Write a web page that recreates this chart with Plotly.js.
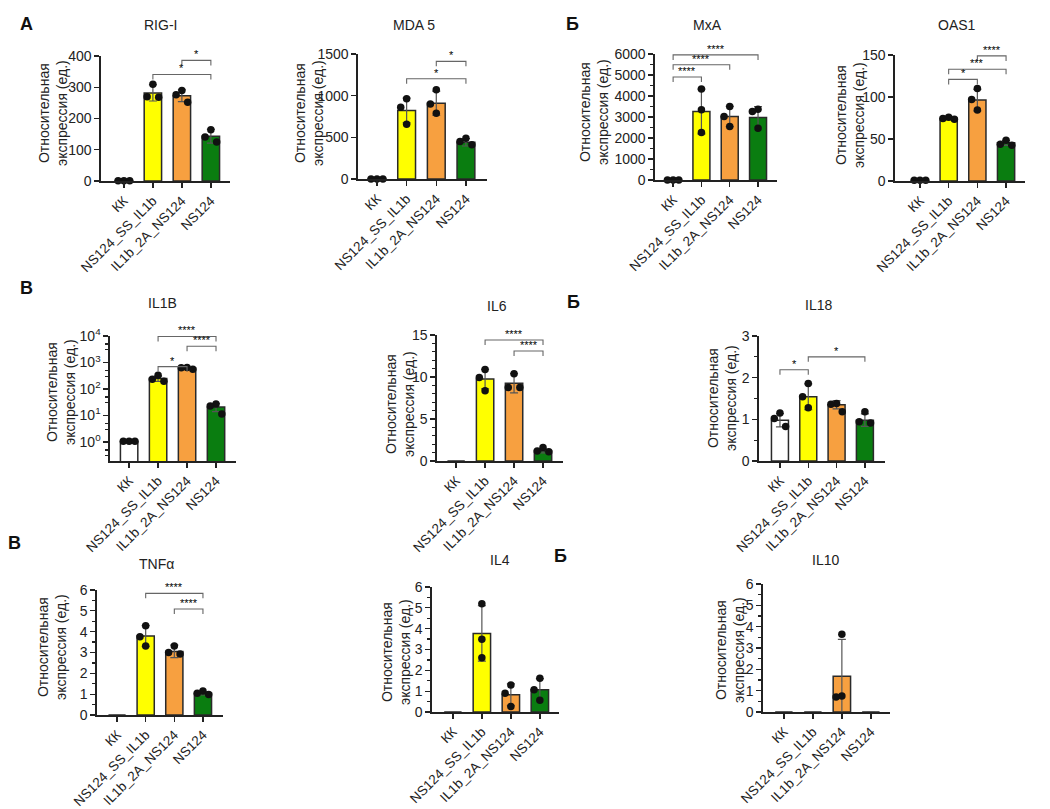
<!DOCTYPE html>
<html><head><meta charset="utf-8">
<script src="https://cdn.plot.ly/plotly-3.0.1.min.js"></script>
<style>html,body{margin:0;padding:0;background:#fff}#chart{width:1050px;height:809px}</style>
</head><body><div id="chart"></div>
<script>
// ---------- DATA ----------
const categories = ['КК', 'NS124_SS_IL1b', 'IL1b_2A_NS124', 'NS124'];

const rigiMean = [1, 282, 273, 143];
const rigiSd   = [0, 26, 19, 22];
const rigiPts  = [[1,1,1],[310,270,268],[290,276,252],[164,141,125]];
const rigiSig  = [[1,3,341,'*'],[2,3,386,'*']];

const mda5Mean = [1, 822, 910, 441];
const mda5Sd   = [0, 148, 145, 45];
const mda5Pts  = [[1,1,1],[963,862,658],[1071,899,790],[490,450,410]];
const mda5Sig  = [[1,3,1203,'*'],[2,3,1412,'*']];

const mxaMean = [1, 3263, 3024, 2976];
const mxaSd   = [0, 1066, 478, 524];
const mxaPts  = [[1,1,1],[4329,3342,2260],[3501,3024,2546],[3374,3263,2467]];
const mxaSig  = [[0,1,4902,'****'],[0,2,5491,'****'],[0,3,5960,'****']];

const oas1Mean = [1, 74.5, 96.3, 45.4];
const oas1Sd   = [0, 1.5, 12.8, 3];
const oas1Pts  = [[1,1,1],[76,74.4,73.6],[110,97,84.4],[48.5,43.8,42.6]];
const oas1Sig  = [[1,2,121,'*'],[1,3,133,'***'],[2,3,149,'****']];

const il1bMean = [1.05, 248, 600, 21];
const il1bSd   = [0.02, 55, 40, 7];
const il1bPts  = [[1.05,1.05,1.05],[331,235,196],[646,630,560],[27,22.6,11.3]];
const il1bSig  = [[1,2,700,'*'],[1,3,9600,'****'],[2,3,4100,'****']];

const il6Mean = [0, 9.75, 9.25, 1.2];
const il6Sd   = [0, 1.15, 1.15, 0.25];
const il6Pts  = [[],[10.9,9.95,8.36],[10.4,8.75,8.75],[1.6,1.2,1.1]];
const il6Sig  = [[1,3,14.4,'****'],[2,3,13.1,'****']];

const il18Mean = [0.98, 1.54, 1.35, 0.98];
const il18Sd   = [0.16, 0.31, 0.1, 0.15];
const il18Pts  = [[1.15,1.02,0.83],[1.86,1.54,1.28],[1.38,1.36,1.18],[1.18,0.94,0.91]];
const il18Sig  = [[0,1,2.19,'*'],[1,3,2.5,'*']];

const tnfMean = [0, 3.79, 3.05, 1.04];
const tnfSd   = [0, 0.5, 0.3, 0.08];
const tnfPts  = [[],[4.29,3.76,3.31],[3.31,3.0,2.93],[1.15,1.04,0.98]];
const tnfSig  = [[1,3,5.84,'****'],[2,3,5.09,'****']];

const il4Mean = [0, 3.77, 0.83, 1.07];
const il4Sd   = [0, 1.33, 0.52, 0.53];
const il4Pts  = [[],[5.2,3.49,2.61],[1.3,0.9,0.27],[1.62,1.07,0.56]];
const il4Sig  = [];

const il10Mean = [0, 0, 1.68, 0];
const il10Sd   = [0, 0, 1.72, 0];
const il10Pts  = [[],[],[3.65,0.75,0.7],[]];
const il10Sig  = [];

// ---------- STYLE / LAYOUT ----------
const W = 1050, H = 809;
const barColors = ['#ffffff', '#ffff00', '#f7a040', '#0a7d10'];
const FONT = 'Liberation Sans, Arial, Helvetica, sans-serif';
const TXT = '#222';

const panels = [
  {t:'RIG-I', m:rigiMean, s:rigiSd, p:rigiPts, g:rigiSig, box:[101,230,56,181], yr:[0,400], dt:100, xr:[-0.79,3.66], yt:[53,113]},
  {t:'MDA 5', m:mda5Mean, s:mda5Sd, p:mda5Pts, g:mda5Sig, box:[358,487,54,179], yr:[0,1500], dt:500, xr:[-0.64,3.71], yt:[309,113]},
  {t:'MxA',   m:mxaMean,  s:mxaSd,  p:mxaPts,  g:mxaSig,  box:[655,777,54,180], yr:[0,6000], dt:1000, minor:500, xr:[-0.64,3.67], yt:[594,112]},
  {t:'OAS1',  m:oas1Mean, s:oas1Sd, p:oas1Pts, g:oas1Sig, box:[895,1025,55,181], yr:[0,150], dt:50, xr:[-0.87,3.66], yt:[850,115]},
  {t:'IL1B',  m:il1bMean, s:il1bSd, p:il1bPts, g:il1bSig, box:[110,236,336,461], log:true, yr:[-0.72,4], xr:[-0.66,3.69], yt:[61,392]},
  {t:'IL6',   m:il6Mean,  s:il6Sd,  p:il6Pts,  g:il6Sig,  box:[437,563,335,461], yr:[0,15], dt:5, minor:1, xr:[-0.66,3.69], yt:[400,404]},
  {t:'IL18',  m:il18Mean, s:il18Sd, p:il18Pts, g:il18Sig, box:[759,885,336,461], yr:[0,3], dt:1, minor:0.5, xr:[-0.74,3.71], yt:[722,398]},
  {t:'TNFα',  m:tnfMean,  s:tnfSd,  p:tnfPts,  g:tnfSig,  box:[97,223,590,715], yr:[0,6], dt:1, minor:0.5, xr:[-0.7,3.7], yt:[52,647]},
  {t:'IL4',   m:il4Mean,  s:il4Sd,  p:il4Pts,  g:il4Sig,  box:[432,559,587,712], yr:[0,6], dt:1, minor:0.5, xr:[-0.72,3.66], yt:[396,652]},
  {t:'IL10',  m:il10Mean, s:il10Sd, p:il10Pts, g:il10Sig, box:[763,890,584,712], yr:[0,6], dt:1, minor:0.5, xr:[-0.72,3.66], yt:[730,650]}
];
const titlePos = [[160,25],[414,25],[707,25],[957,25],[162,303],[497,306],[818,305],[156,564],[500,560],[825,560]];
const panelLabels = [['А',26,24],['Б',572,24],['В',26,288],['Б',573,302],['В',14,543],['Б',560,556]];

const traces = [], shapes = [], annotations = [];
const layout = {width:W, height:H, margin:{l:0,r:0,t:0,b:0}, showlegend:false,
  paper_bgcolor:'#fff', plot_bgcolor:'rgba(0,0,0,0)', font:{family:FONT, color:TXT}};

function swarm(vals, norm) {
  const order = vals.map((v,i)=>i).sort((a,b)=>vals[b]-vals[a]);
  const offs = new Array(vals.length).fill(0);
  const placed = [];
  const cands = [0,-0.2,0.2,-0.4,0.4];
  for (const i of order) {
    const y = norm(vals[i]);
    let chosen = 0;
    for (const c of cands) {
      if (!placed.some(q => q.o===c && Math.abs(q.y-y) < 0.12)) { chosen = c; break; }
    }
    placed.push({o:chosen, y:y}); offs[i] = chosen;
  }
  return offs;
}

panels.forEach((P, k) => {
  const n = k+1, xa = 'x'+(n===1?'':n), ya = 'y'+(n===1?'':n);
  const [x0,x1,yT,yB] = P.box;
  layout['xaxis'+(n===1?'':n)] = {
    domain:[x0/W, x1/W], anchor:ya, range:P.xr, fixedrange:true,
    tickmode:'array', tickvals:[0,1,2,3], ticktext:categories, tickangle:-45,
    ticks:'outside', ticklen:5, tickwidth:1.3, tickcolor:'#222',
    showline:true, linecolor:'#222', linewidth:1.6, showgrid:false, zeroline:false,
    tickfont:{size:13.5, family:FONT, color:TXT}
  };
  const yax = {
    domain:[1-yB/H, 1-yT/H], anchor:xa, range:P.yr, fixedrange:true,
    ticks:'outside', ticklen:5, tickwidth:1.3, tickcolor:'#222',
    showline:true, linecolor:'#222', linewidth:1.6, showgrid:false, zeroline:false,
    tickfont:{size:14, family:FONT, color:TXT}
  };
  if (P.log) {
    yax.type = 'log';
    yax.tickmode = 'array';
    yax.tickvals = [1,10,100,1000,10000];
    yax.ticktext = ['10<sup>0</sup>','10<sup>1</sup>','10<sup>2</sup>','10<sup>3</sup>','10<sup>4</sup>'];
    yax.minor = {tickmode:'array', tickvals:[0.3,0.5,3,5,30,50,300,500,3000,5000], ticklen:3, tickwidth:1.2, tickcolor:'#222', ticks:'outside'};
  } else {
    yax.dtick = P.dt; yax.tick0 = 0;
    if (P.minor) yax.minor = {dtick:P.minor, ticklen:3, tickwidth:1.2, tickcolor:'#222', ticks:'outside'};
  }
  layout['yaxis'+(n===1?'':n)] = yax;

  traces.push({type:'bar', x:[0,1,2,3], y:P.m, xaxis:xa, yaxis:ya, width:0.6,
    marker:{color:barColors, line:{color:'#2a2a2a', width:1.5}},
    error_y:{type:'data', array:P.s, visible:true, color:'#555', thickness:1.2, width:4},
    hoverinfo:'skip'});

  const norm = P.log ? (v => (Math.log10(v)-P.yr[0])/(P.yr[1]-P.yr[0]))
                     : (v => (v-P.yr[0])/(P.yr[1]-P.yr[0]));
  const dx = [], dy = [];
  P.p.forEach((vals, ci) => {
    const offs = swarm(vals, norm);
    vals.forEach((v, j) => { dx.push(ci + offs[j]); dy.push(v); });
  });
  traces.push({type:'scatter', mode:'markers', x:dx, y:dy, xaxis:xa, yaxis:ya,
    marker:{color:'#111', size:7.5}, cliponaxis:false, hoverinfo:'skip'});

  const span = P.yr[1]-P.yr[0];
  P.g.forEach(([a,b,yv,lab]) => {
    let yTop, yLow, yAnn;
    if (P.log) { yTop = yv; yLow = yv / Math.pow(10, span*0.04); yAnn = Math.log10(yv); }
    else { yTop = yv; yLow = yv - span*0.04; yAnn = yv; }
    shapes.push({type:'path', xref:xa, yref:ya,
      path:`M ${a} ${yLow} L ${a} ${yTop} L ${b} ${yTop} L ${b} ${yLow}`,
      line:{color:'#666', width:1.1}, layer:'above'});
    annotations.push({xref:xa, yref:ya, x:(a+b)/2, y:yAnn, text:lab, showarrow:false,
      xanchor:'center', yanchor:'bottom', yshift:-2, font:{size:11, family:FONT, color:'#000'}});
  });

  annotations.push({xref:'paper', yref:'paper', x:titlePos[k][0]/W, y:1-titlePos[k][1]/H,
    text:P.t, showarrow:false, xanchor:'center', yanchor:'middle',
    font:{size:14, family:FONT, color:TXT}});
  annotations.push({xref:'paper', yref:'paper', x:P.yt[0]/W, y:1-P.yt[1]/H,
    text:'Относительная<br>экспрессия (ед.)', showarrow:false, textangle:-90,
    xanchor:'center', yanchor:'middle', font:{size:14, family:FONT, color:TXT}});
});

panelLabels.forEach(([t,x,y]) => {
  annotations.push({xref:'paper', yref:'paper', x:x/W, y:1-y/H, text:'<b>'+t+'</b>',
    showarrow:false, xanchor:'center', yanchor:'middle', font:{size:18, family:FONT, color:'#111'}});
});

layout.shapes = shapes;
layout.annotations = annotations;
Plotly.newPlot('chart', traces, layout, {staticPlot:true, displayModeBar:false});
</script>
</body></html>
